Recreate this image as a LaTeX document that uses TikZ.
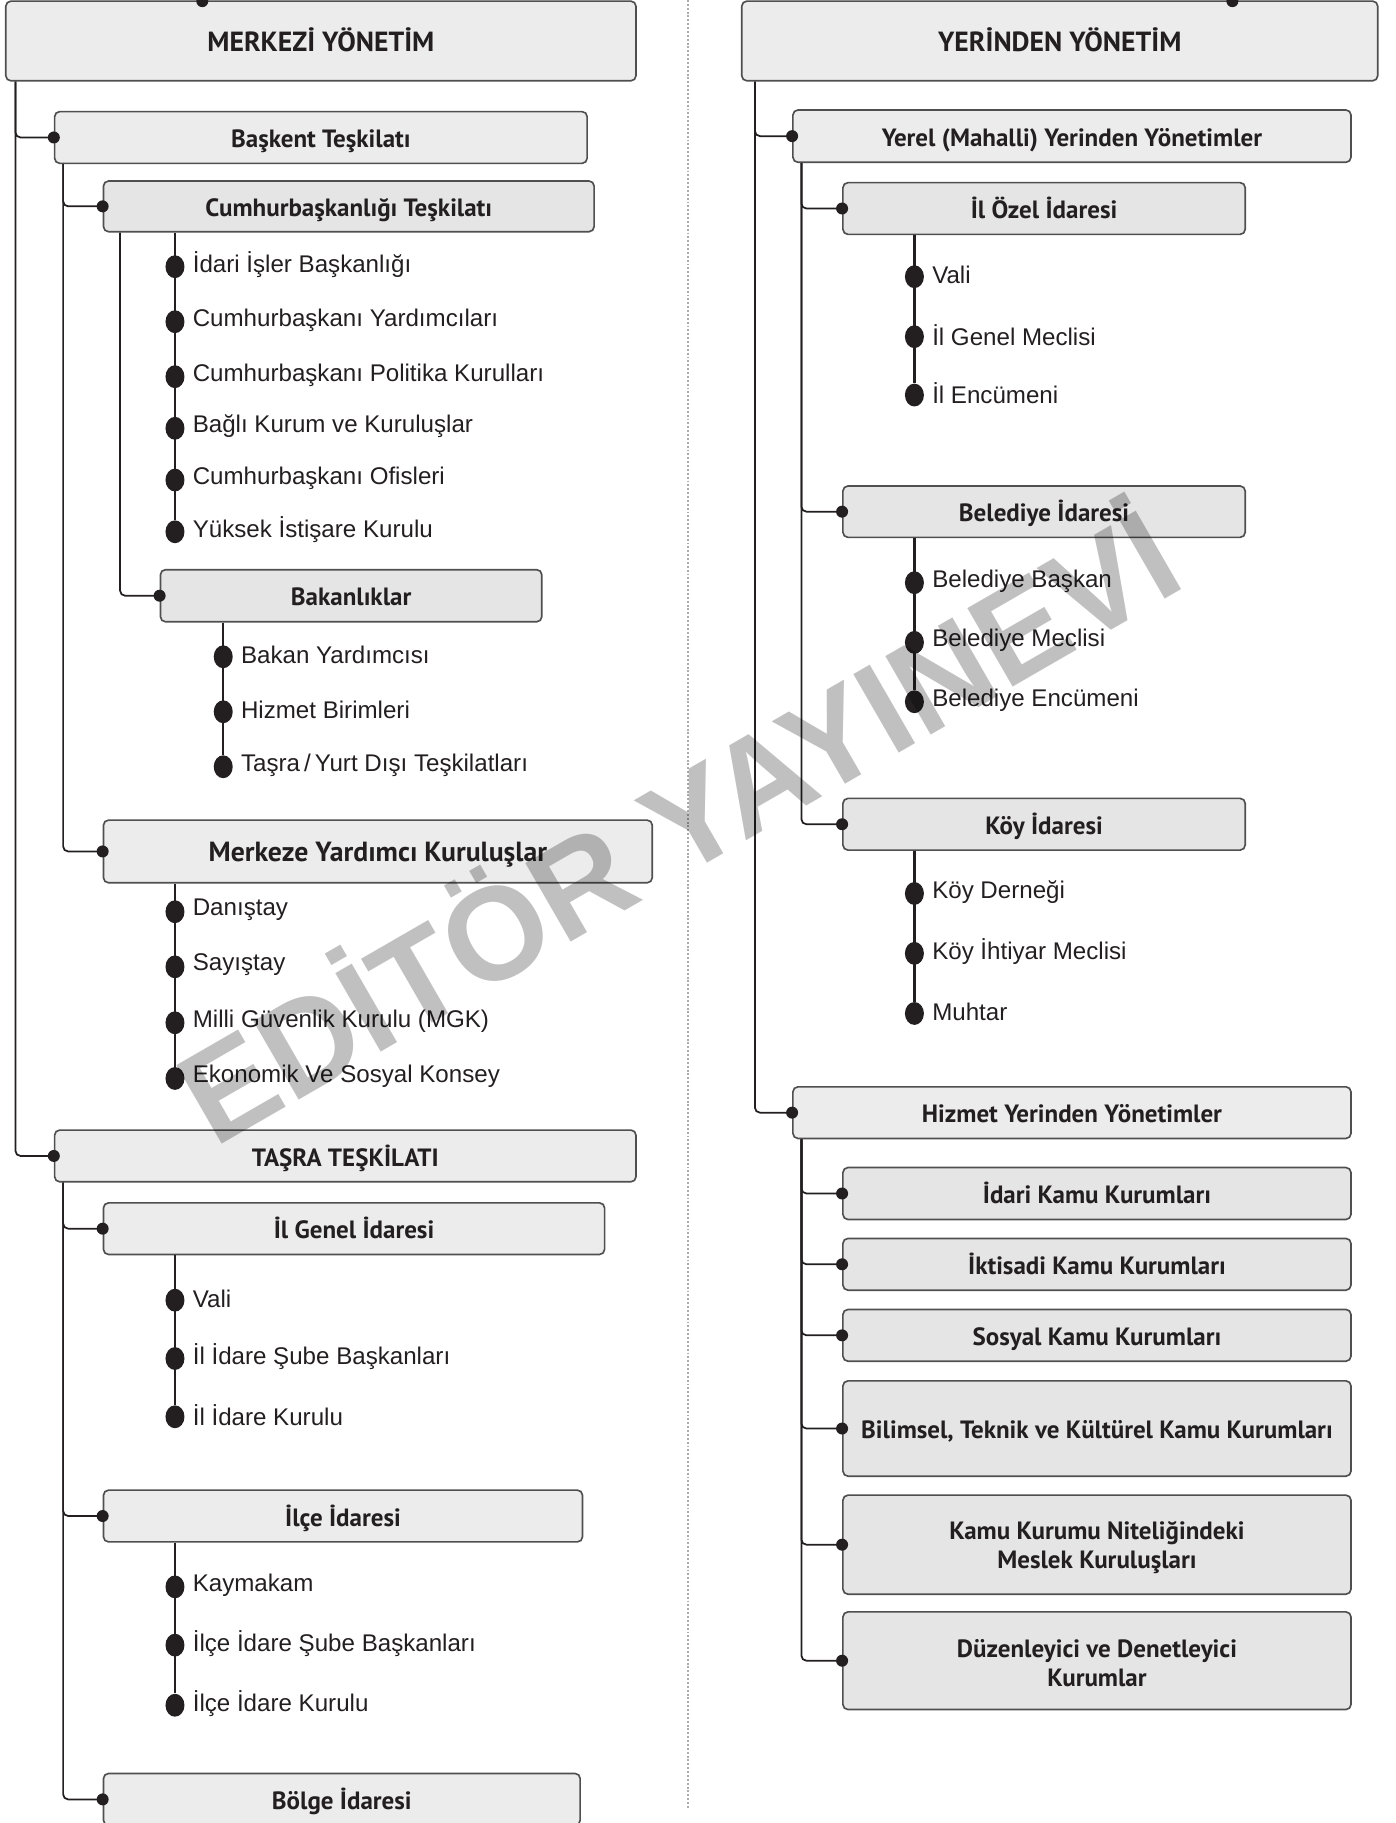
\documentclass[tikz,border=0pt]{standalone}
\usepackage{fontspec}
\setmainfont{Liberation Sans}
\newfontfamily\ptfont{PT Sans}
\usetikzlibrary{calc,shapes.geometric}
\definecolor{ln}{HTML}{231F20}
\definecolor{bline}{HTML}{4F4F4F}
\definecolor{bfillA}{HTML}{ECECEC}
\definecolor{bfillB}{HTML}{E5E5E5}
\definecolor{wmc}{HTML}{C0C0C0}
\newcommand{\bx}[7]{\node[#1, minimum width={(#4-#3)*0.6pt}, minimum height={(#6-#5)*0.6pt}] (#2) at ({(#3+#4)/2},{(#5+#6)/2}) {#7};}
\begin{document}
\begin{tikzpicture}[x=0.6pt,y=-0.6pt,
  tfont/.style={font=\ptfont\bfseries\fontsize{12.9}{15}\selectfont},
  box/.style={draw=bline, line width=0.85pt, rounded corners=2.6pt, inner sep=0pt, text=ln,
    text height=1.2em, text depth=0.15em, tfont},
  boxA/.style={box, fill=bfillA},
  boxB/.style={box, fill=bfillB},
  bigt/.style={font=\ptfont\bfseries\fontsize{14.3}{16.5}\selectfont},
  btext/.style={inner sep=0pt, align=center, text=ln, tfont},
  trunk/.style={draw=ln, line width=0.9pt, rounded corners=2.6pt},
  itemline/.style={draw=ln, line width=1.3pt},
  sdot/.style={circle, fill=ln, inner sep=0pt, minimum size=6.2pt},
  bdot/.style={ellipse, fill=ln, inner sep=0pt, minimum width=9.8pt, minimum height=11.8pt},
  item/.style={anchor=west, inner sep=0pt, text=ln, font=\fontsize{12.45}{14}\selectfont},
  wmark/.style={text=wmc, rotate=30, inner sep=0pt, font=\bfseries\fontsize{68}{75}\selectfont}
]
\useasboundingbox (0,0) rectangle (1200,1568);

% divider
\coordinate (divtop) at (592,0);
\coordinate (divbot) at (592,1555);
\draw[draw=gray!65, line width=1pt, densely dotted] (divtop) -- (divbot);

% ---------- boxes left ----------
\bx{boxA,bigt}{merkezi}{5}{547}{1}{69.5}{MERKEZİ YÖNETİM}
\bx{boxA}{baskent}{47}{505}{96}{140.5}{Başkent Teşkilatı}
\bx{boxB}{cumhur}{89}{511}{155.7}{199.3}{Cumhurbaşkanlığı Teşkilatı}
\bx{boxB}{bakan}{138}{466}{490}{534.8}{Bakanlıklar}
\bx{boxA,bigt}{merkeze}{89}{561}{705.4}{759.3}{Merkeze Yardımcı Kuruluşlar}
\bx{boxA}{tasra}{47}{547}{972}{1016.5}{TAŞRA TEŞKİLATI}
\bx{boxA}{ilgenel}{89}{520}{1034.6}{1079}{İl Genel İdaresi}
\bx{boxA}{ilce}{89}{501}{1281.7}{1326.2}{İlçe İdaresi}
\bx{boxA}{bolge}{89}{499}{1525.4}{1570}{Bölge İdaresi}

% ---------- boxes right ----------
\bx{boxA,bigt}{yerinden}{638}{1185}{1}{69.5}{YERİNDEN YÖNETİM}
\bx{boxA}{yerel}{682}{1162}{94.6}{139.6}{Yerel (Mahalli) Yerinden Yönetimler}
\bx{boxB}{ilozel}{725}{1071}{157.1}{201.6}{İl Özel İdaresi}
\bx{boxB}{belediye}{725}{1071}{418}{462.2}{Belediye İdaresi}
\bx{boxB}{koy}{725}{1071}{686.7}{731.2}{Köy İdaresi}
\bx{boxA}{hizmet}{682}{1162}{934.8}{979.2}{Hizmet Yerinden Yönetimler}
\bx{boxB}{idari}{725}{1162}{1004.2}{1048.9}{İdari Kamu Kurumları}
\bx{boxB}{iktisadi}{725}{1162}{1065.2}{1109.7}{İktisadi Kamu Kurumları}
\bx{boxB}{sosyal}{725}{1162}{1126.3}{1170.8}{Sosyal Kamu Kurumları}
\bx{boxB}{bilimsel}{725}{1162}{1187.7}{1269.7}{Bilimsel, Teknik ve Kültürel Kamu Kurumları}
\bx{boxB}{kamu}{725}{1162}{1286}{1371.2}{}
\bx{boxB}{duzen}{725}{1162}{1386.4}{1470.4}{}
\node[btext] (kamu-t) at ($(kamu.center)+(0,2.5)$) {Kamu Kurumu Niteliğindeki\\Meslek Kuruluşları};
\node[btext] (duzen-t) at ($(duzen.center)+(0,2.5)$) {Düzenleyici ve Denetleyici\\Kurumlar};

% top dots
\node[sdot] (topL) at (174,1) {};
\node[sdot] (topR) at (1060,1) {};

% ---------- trunks ----------
\foreach \c in {baskent,tasra}
  \draw[trunk] ($(merkezi.south west)+(9,0)$) |- (\c.west);
\foreach \c in {cumhur,merkeze}
  \draw[trunk] ($(baskent.south west)+(8,0)$) |- (\c.west);
\draw[trunk] ($(cumhur.south west)+(15,0)$) |- (bakan.west);
\foreach \c in {ilgenel,ilce,bolge}
  \draw[trunk] ($(tasra.south west)+(8,0)$) |- (\c.west);
\foreach \c in {yerel,hizmet}
  \draw[trunk] ($(yerinden.south west)+(12,0)$) |- (\c.west);
\foreach \c in {ilozel,belediye,koy}
  \draw[trunk] ($(yerel.south west)+(8,0)$) |- (\c.west);
\foreach \c in {idari,iktisadi,sosyal,bilimsel,kamu,duzen}
  \draw[trunk] ($(hizmet.south west)+(8,0)$) |- (\c.west);
\foreach \c in {baskent,tasra,cumhur,merkeze,bakan,ilgenel,ilce,bolge,yerel,hizmet,ilozel,belediye,koy,idari,iktisadi,sosyal,bilimsel,kamu,duzen}
  \node[sdot] (\c-d) at (\c.west) {};

% ---------- item lists ----------
\foreach \y/\n/\t in {229.4/ca/{İdari İşler Başkanlığı},276.7/cb/{Cumhurbaşkanı Yardımcıları},324/cc/{Cumhurbaşkanı Politika Kurulları},368.4/cd/{Bağlı Kurum ve Kuruluşlar},412.9/ce/{Cumhurbaşkanı Ofisleri},457.4/cf/{Yüksek İstişare Kurulu}}{
  \node[bdot] (\n) at (150.5,\y) {};
  \node[item] (\n-t) at (165.5,{\y-1.5}) {\t};}
\draw[itemline] (cumhur.south -| ca) -- (cf);

\foreach \y/\n/\t in {564.9/ba/{Bakan Yardımcısı},612.2/bb/{Hizmet Birimleri},659.5/bc/{Taşra\,/\,Yurt Dışı Teşkilatları}}{
  \node[bdot] (\n) at (192,\y) {};
  \node[item] (\n-t) at (207,{\y-1.5}) {\t};}
\draw[itemline] (bakan.south -| ba) -- (bc);

\foreach \y/\n/\t in {784.2/ma/{Danıştay},831.6/mb/{Sayıştay},879.7/mc/{Milli Güvenlik Kurulu (MGK)},927.6/md/{Ekonomik Ve Sosyal Konsey}}{
  \node[bdot] (\n) at (150.5,\y) {};
  \node[item] (\n-t) at (165.5,{\y-1.5}) {\t};}
\draw[itemline] (merkeze.south -| ma) -- (md);

\foreach \y/\n/\t in {1118.3/ga/{Vali},1168.5/gb/{İl İdare Şube Başkanları},1218.6/gc/{İl İdare Kurulu}}{
  \node[bdot] (\n) at (150.5,\y) {};
  \node[item] (\n-t) at (165.5,{\y-1.5}) {\t};}
\draw[itemline] (ilgenel.south -| ga) -- (gc);

\foreach \y/\n/\t in {1364.9/ia/{Kaymakam},1415/ib/{İlçe İdare Şube Başkanları},1466.7/ic/{İlçe İdare Kurulu}}{
  \node[bdot] (\n) at (150.5,\y) {};
  \node[item] (\n-t) at (165.5,{\y-1.5}) {\t};}
\draw[itemline] (ilce.south -| ia) -- (ic);

\foreach \y/\n/\t in {238/oa/{Vali},289.6/ob/{İl Genel Meclisi},339.8/oc/{İl Encümeni}}{
  \node[bdot] (\n) at (786.5,\y) {};
  \node[item] (\n-t) at (801.5,{\y-1.5}) {\t};}
\draw[itemline] (ilozel.south -| oa) -- (oc);

\foreach \y/\n/\t in {501.2/ea/{Belediye Başkan},552.5/eb/{Belediye Meclisi},603.6/ec/{Belediye Encümeni}}{
  \node[bdot] (\n) at (786.5,\y) {};
  \node[item] (\n-t) at (801.5,{\y-1.5}) {\t};}
\draw[itemline] (belediye.south -| ea) -- (ec);

\foreach \y/\n/\t in {768.5/ka/{Köy Derneği},820/kb/{Köy İhtiyar Meclisi},871.7/kc/{Muhtar}}{
  \node[bdot] (\n) at (786.5,\y) {};
  \node[item] (\n-t) at (801.5,{\y-1.5}) {\t};}
\draw[itemline] (koy.south -| ka) -- (kc);

% watermark
\begin{scope}[blend mode=multiply]
\node[wmark] (wm) at (580,704) {EDİTÖR YAYINEVİ};
\end{scope}
\end{tikzpicture}
\end{document}
